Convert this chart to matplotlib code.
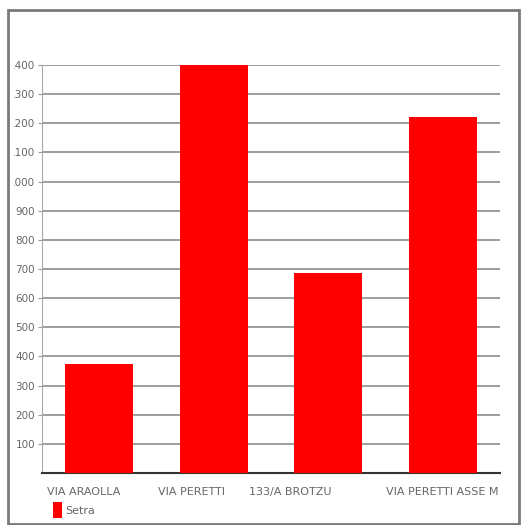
import matplotlib
matplotlib.use("Agg")
import matplotlib.pyplot as plt
from matplotlib.patches import Rectangle
from matplotlib.transforms import Bbox, TransformedBbox, blended_transform_factory

categories = ["VIA ARAOLLA", "VIA PERETTI", "133/A BROTZU", "VIA PERETTI ASSE M"]
series_name = "Setra"
values = [375, 1400, 687, 1220]
yticks = list(range(100, 1500, 100))

W, H = 528, 525
fig = plt.figure(figsize=(W / 100, H / 100), dpi=100)
fig.patch.set_facecolor("white")

def fx(px):
    return px / W

def fy(py):
    return 1 - py / H

# outer frame
fig.patches.append(Rectangle((fx(8), fy(524)), fx(519) - fx(8), fy(10) - fy(524),
                             transform=fig.transFigure, fill=False,
                             edgecolor="#7a7a7a", linewidth=2))

ax = fig.add_axes([fx(42), fy(473), fx(500) - fx(42), fy(65) - fy(473)])
ax.set_xlim(-0.5, len(categories) - 0.5)
ax.set_ylim(0, 1400)
ax.bar(range(len(categories)), values, width=0.59, color="#ff0000", zorder=3)

ax.set_yticks(yticks)
ax.set_yticklabels([str(v) for v in yticks])
ax.yaxis.grid(True, color="#8c8c8c", linewidth=1.2, zorder=0)
ax.set_axisbelow(True)
ax.tick_params(axis="y", length=3, width=0.8, color="#999999", pad=2,
               labelsize=7.5, labelcolor="#666666")
ax.set_xticks([])
for s in ["top", "right"]:
    ax.spines[s].set_visible(False)
ax.spines["left"].set_color("#aaaaaa")
ax.spines["left"].set_linewidth(0.8)
ax.spines["bottom"].set_color("#333333")
ax.spines["bottom"].set_linewidth(1.5)

# clip y tick labels like the reference (leading digit cut off)
clip = TransformedBbox(Bbox([[fx(14), 0], [1, 1]]), fig.transFigure)
for lbl in ax.get_yticklabels():
    lbl.set_clip_box(clip)
    lbl.set_clip_on(True)

# category labels
tr = blended_transform_factory(ax.transData, ax.transAxes)
label_x = [-0.46, 0.51, 1.31, 2.5]
for x, c in zip(label_x, categories):
    ax.text(x, -0.053, c, transform=tr, ha="left", va="baseline",
            fontsize=8, color="#666666", clip_on=False)

# legend
fig.patches.append(Rectangle((fx(53), fy(518)), fx(62) - fx(53), fy(502) - fy(518),
                             transform=fig.transFigure, facecolor="#ff0000",
                             edgecolor="none"))
fig.text(fx(65), fy(514), series_name, ha="left", va="baseline",
         fontsize=8, color="#666666")

fig.savefig("out.png", dpi=100, facecolor="white")
